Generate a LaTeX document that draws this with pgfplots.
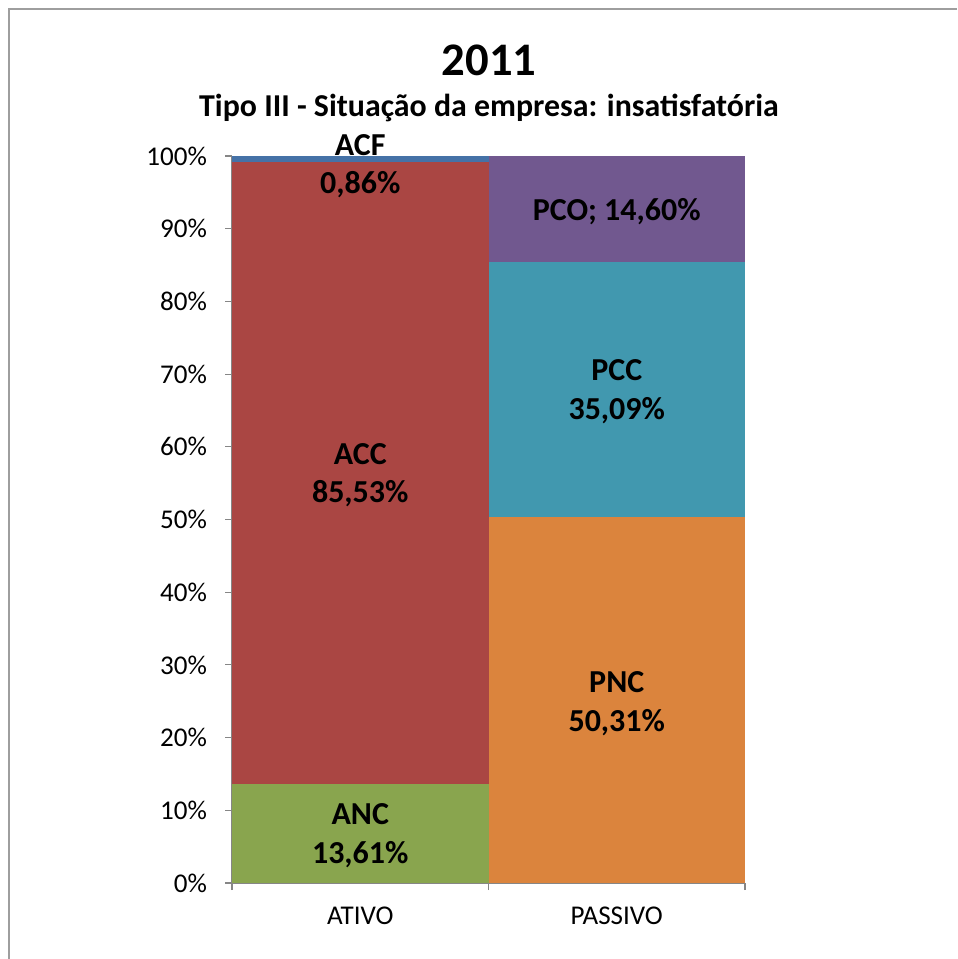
\documentclass[border=0pt]{standalone}
\usepackage{pgfplots}
\pgfplotsset{compat=1.18}
\usepackage{fontspec}
\setmainfont{Carlito}
\definecolor{cANC}{HTML}{89A54E}
\definecolor{cACC}{HTML}{AA4643}
\definecolor{cACF}{HTML}{4572A7}
\definecolor{cPNC}{HTML}{DB843D}
\definecolor{cPCC}{HTML}{4198AF}
\definecolor{cPCO}{HTML}{71588F}
\definecolor{axgray}{HTML}{868686}
\tikzset{dl/.style={font=\fontsize{24}{29}\selectfont\bfseries, align=center}}
\begin{document}
\begin{tikzpicture}
\useasboundingbox (0,0) rectangle (717.75pt,719.25pt);
\draw[color=axgray!80, line width=1pt] (6.75pt,0) -- (6.75pt,712.5pt) -- (717.75pt,712.5pt);
\node[font=\fontsize{35}{40}\selectfont\bfseries] at (366.75pt,674.25pt) {2011};
\node[font=\fontsize{23.9}{28}\selectfont\bfseries] at (366.75pt,638.25pt) {Tipo III - Situação da empresa: insatisfatória};
\begin{axis}[
  at={(174pt,57pt)}, anchor=south west,
  scale only axis, width=384.75pt, height=545.25pt,
  ybar stacked, bar width=1, bar shift=0pt,
  xmin=-0.5, xmax=1.5, ymin=0, ymax=100,
  axis x line*=bottom, axis y line*=left,
  axis line style={axgray, line width=0.8pt},
  tick style={axgray, line width=0.8pt},
  tick align=outside, major tick length=5.25pt,
  xtick={-0.5,0.5,1.5}, x tick label as interval,
  xticklabels={ATIVO,PASSIVO},
  ytick={0,10,...,100},
  yticklabels={0\%,10\%,20\%,30\%,40\%,50\%,60\%,70\%,80\%,90\%,100\%},
  ticklabel style={font=\fontsize{20.3}{24}\selectfont, text=black},
  xticklabel style={yshift=-9pt},
  yticklabel style={xshift=-10pt},
  /pgf/number format/assume math mode=true,
  clip=false,
]
\addplot[fill=cANC, draw=none] coordinates {(0,13.61) (1,0)};
\addplot[fill=cACC, draw=none] coordinates {(0,85.53) (1,0)};
\addplot[fill=cACF, draw=none] coordinates {(0,0.86) (1,0)};
\addplot[fill=cPNC, draw=none] coordinates {(0,0) (1,50.31)};
\addplot[fill=cPCC, draw=none] coordinates {(0,0) (1,35.09)};
\addplot[fill=cPCO, draw=none] coordinates {(0,0) (1,14.60)};
\coordinate (lANC) at (axis cs:0,6.5);
\coordinate (lACC) at (axis cs:0,56.1);
\coordinate (lACF) at (axis cs:0,98.6);
\coordinate (lPNC) at (axis cs:1,24.7);
\coordinate (lPCC) at (axis cs:1,67.6);
\coordinate (lPCO) at (axis cs:1,92.3);
\end{axis}
\node[dl] at (lANC) {ANC\\13,61\%};
\node[dl] at (lACC) {ACC\\85,53\%};
\node[dl] at (lACF) {ACF\\0,86\%};
\node[dl] at (lPNC) {PNC\\50,31\%};
\node[dl] at (lPCC) {PCC\\35,09\%};
\node[dl] at (lPCO) {PCO; 14,60\%};
\end{tikzpicture}
\end{document}
